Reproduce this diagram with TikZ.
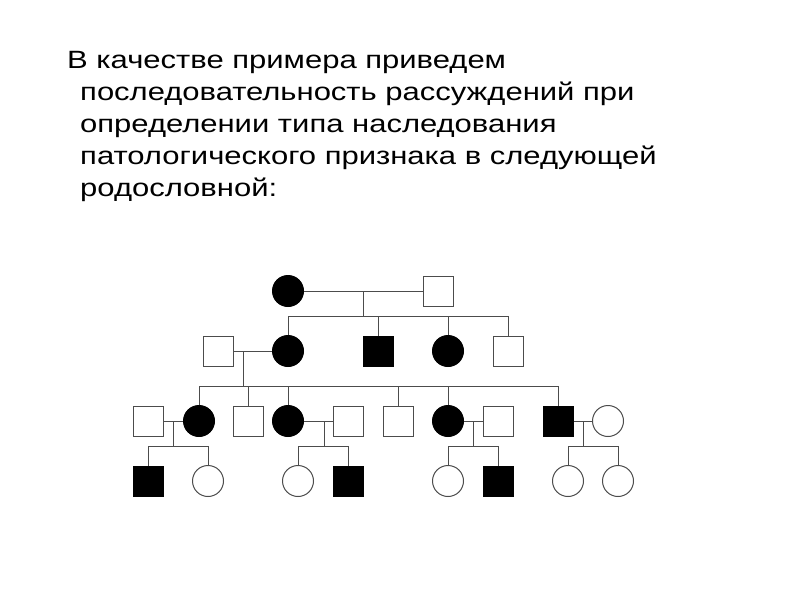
\documentclass[tikz,border=0pt]{standalone}
\usepackage{fontspec}
\setmainfont{Liberation Sans}
\newfontfamily\widefont[FakeStretch=1.24]{Liberation Sans}
\begin{document}
\begin{tikzpicture}[x=1pt,y=-1pt,
  line/.style={draw=black!70, line width=1pt},
  txt/.style={anchor=base west, inner sep=0pt, text=black, font=\widefont\fontsize{25}{30}\selectfont},
  male/.style={rectangle, minimum size=30pt, inner sep=0pt, draw=black!70, line width=1pt, fill=white},
  female/.style={circle, minimum size=31pt, inner sep=0pt, draw=black!70, line width=1pt, fill=white},
  aff/.style={fill=black, draw=black}]
\useasboundingbox (0,0) rectangle (800,600);
% text
\node[txt] (t1) at (67,68) {В качестве примера приведем};
\node[txt] (t2) at (80,100) {последовательность рассуждений при};
\node[txt] (t3) at (80,132) {определении типа наследования};
\node[txt] (t4) at (80,164) {патологического признака в следующей};
\node[txt] (t5) at (80,196) {родословной:};
% generation I
\node[female,aff] (i1) at (288,291) {};
\node[male] (i2) at (438,291) {};
% generation II
\node[male] (ii1) at (218,351) {};
\node[female,aff] (ii2) at (288,351) {};
\node[male,aff] (ii3) at (378,351) {};
\node[female,aff] (ii4) at (448,351) {};
\node[male] (ii5) at (508,351) {};
% generation III
\node[male] (iii1) at (148,421) {};
\node[female,aff] (iii2) at (199,421) {};
\node[male] (iii3) at (248,421) {};
\node[female,aff] (iii4) at (288,421) {};
\node[male] (iii5) at (348,421) {};
\node[male] (iii6) at (398,421) {};
\node[female,aff] (iii7) at (448,421) {};
\node[male] (iii8) at (498,421) {};
\node[male,aff] (iii9) at (558,421) {};
\node[female] (iii10) at (608,421) {};
% generation IV
\node[male,aff] (iv1) at (148,481) {};
\node[female] (iv2) at (208,481) {};
\node[female] (iv3) at (298,481) {};
\node[male,aff] (iv4) at (348,481) {};
\node[female] (iv5) at (448,481) {};
\node[male,aff] (iv6) at (498,481) {};
\node[female] (iv7) at (568,481) {};
\node[female] (iv8) at (618,481) {};
% coordinates
\coordinate (m1) at (363,291);
\coordinate (s1) at (363,316);
\coordinate (m2) at (243,351);
\coordinate (s2) at (243,386);
\coordinate (m3) at (173,421);
\coordinate (s3) at (173,446);
\coordinate (m4) at (324,421);
\coordinate (s4) at (324,446);
\coordinate (m5) at (473,421);
\coordinate (s5) at (473,446);
\coordinate (m6) at (583,421);
\coordinate (s6) at (583,446);
% gen I
\draw[line] (i1) -- (i2);
\draw[line] (m1) -- (s1);
\draw[line] (ii2.north) |- (s1);
\draw[line] (ii5.north) |- (s1);
\draw[line] (ii3.north) -- (ii3.north |- s1);
\draw[line] (ii4.north) -- (ii4.north |- s1);
% gen II
\draw[line] (ii1) -- (ii2);
\draw[line] (m2) -- (s2);
\draw[line] (iii2.north) |- (s2);
\draw[line] (iii9.north) |- (s2);
\draw[line] (iii3.north) -- (iii3.north |- s2);
\draw[line] (iii4.north) -- (iii4.north |- s2);
\draw[line] (iii6.north) -- (iii6.north |- s2);
\draw[line] (iii7.north) -- (iii7.north |- s2);
% gen III
\draw[line] (iii1) -- (iii2);
\draw[line] (m3) -- (s3);
\draw[line] (iv1.north) |- (s3);
\draw[line] (iv2.north) |- (s3);
\draw[line] (iii4) -- (iii5);
\draw[line] (m4) -- (s4);
\draw[line] (iv3.north) |- (s4);
\draw[line] (iv4.north) |- (s4);
\draw[line] (iii7) -- (iii8);
\draw[line] (m5) -- (s5);
\draw[line] (iv5.north) |- (s5);
\draw[line] (iv6.north) |- (s5);
\draw[line] (iii9) -- (iii10);
\draw[line] (m6) -- (s6);
\draw[line] (iv7.north) |- (s6);
\draw[line] (iv8.north) |- (s6);
\end{tikzpicture}
\end{document}
